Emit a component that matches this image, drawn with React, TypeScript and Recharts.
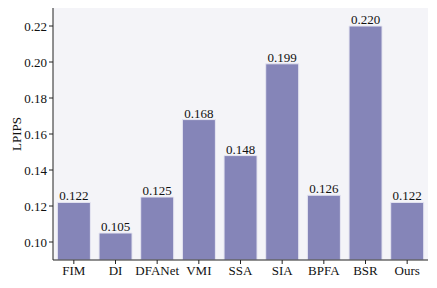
import React from 'react';
import { BarChart, Bar, XAxis, YAxis, CartesianGrid, LabelList } from 'recharts';

const categories = ['FIM', 'DI', 'DFANet', 'VMI', 'SSA', 'SIA', 'BPFA', 'BSR', 'Ours'];
const lpips = [0.122, 0.105, 0.125, 0.168, 0.148, 0.199, 0.126, 0.22, 0.122];
const yTicks = [0.1, 0.12, 0.14, 0.16, 0.18, 0.2, 0.22];

const data = categories.map((name, i) => ({ name, value: lpips[i] }));

const FONT = '"Liberation Serif", "Times New Roman", serif';

export default function App() {
  return (
    <div style={{ position: 'absolute', left: 0, top: 0 }}>
      <BarChart
        width={437}
        height={288}
        data={data}
        margin={{ top: 8, right: 9, bottom: 0, left: 0 }}
        barCategoryGap="10.5%"
      >
        <CartesianGrid fill="#f4f4f8" horizontal={false} vertical={false} stroke="none" />
        <XAxis
          dataKey="name"
          xAxisId="bottom"
          interval={0}
          height={28}
          tick={{ fontFamily: FONT, fontSize: 13, fill: '#111' }}
          tickLine={{ stroke: '#222' }}
          tickSize={4}
          axisLine={{ stroke: '#222' }}
        />
        <XAxis
          dataKey="name"
          xAxisId="top"
          orientation="top"
          height={0}
          tick={false}
          tickLine={false}
          axisLine={{ stroke: '#999' }}
        />
        <YAxis
          yAxisId="left"
          domain={[0.09, 0.23]}
          ticks={yTicks}
          allowDataOverflow
          width={53}
          tickFormatter={(v: number) => v.toFixed(2)}
          tick={{ fontFamily: FONT, fontSize: 13, fill: '#111' }}
          tickLine={{ stroke: '#222' }}
          tickSize={4}
          axisLine={{ stroke: '#222' }}
          label={{
            value: 'LPIPS',
            angle: -90,
            position: 'insideLeft',
            offset: 16,
            style: { fontFamily: FONT, fontSize: 13, fill: '#111', textAnchor: 'middle' },
          }}
        />
        <YAxis
          yAxisId="right"
          orientation="right"
          domain={[0.09, 0.23]}
          width={0}
          tick={false}
          tickLine={false}
          axisLine={{ stroke: '#999' }}
        />
        <Bar
          dataKey="value"
          xAxisId="bottom"
          yAxisId="left"
          fill="#8585b8"
          stroke="#e6e6f2"
          strokeWidth={1}
          isAnimationActive={false}
        >
          <LabelList
            dataKey="value"
            position="top"
            offset={2}
            formatter={(v: number) => v.toFixed(3)}
            style={{ fontFamily: FONT, fontSize: 13, fill: '#111' }}
          />
        </Bar>
      </BarChart>
    </div>
  );
}
